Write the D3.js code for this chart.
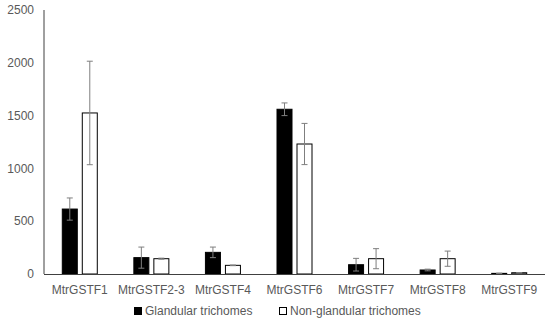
<!DOCTYPE html>
<html lang="en">
<head>
<meta charset="UTF-8">
<title>MtrGSTF expression</title>
<script src="https://d3js.org/d3.v7.min.js"></script>
<style>
    body { margin: 0; background: #fff; }
    svg text { font-family: 'Liberation Sans', Arial, sans-serif; fill: #595959; }
</style>
</head>
<body>
<svg id="chart" width="550" height="321"></svg>
<script>
    const genes = ["MtrGSTF1", "MtrGSTF2-3", "MtrGSTF4", "MtrGSTF6", "MtrGSTF7", "MtrGSTF8", "MtrGSTF9"];
    const glandular = [615, 155, 205, 1560, 88, 38, 6];
    const glandularErr = [105, 100, 50, 60, 60, 8, 2];
    const nonGlandular = [1525, 145, 82, 1231, 145, 145, 12];
    const nonGlandularErr = [490, 5, 3, 195, 95, 72, 2];
    const yTicks = [0, 500, 1000, 1500, 2000, 2500];
    const seriesNames = ["Glandular trichomes", "Non-glandular trichomes"];

    const svg = d3.select("#chart");
    const plotLeft = 44, plotRight = 545, plotTop = 10, plotBottom = 274;

    const x = d3.scaleBand().domain(genes).range([plotLeft, plotRight]);
    const y = d3.scaleLinear().domain([0, 2500]).range([plotBottom, plotTop]);

    const barW = 16, gap = 4;

    // y axis labels
    svg.selectAll(".ytick")
        .data(yTicks)
        .enter().append("text")
        .attr("x", 34)
        .attr("y", d => y(d))
        .attr("dy", "0.35em")
        .attr("text-anchor", "end")
        .attr("font-size", 12)
        .text(d => d);

    const series = [
        { vals: glandular, err: glandularErr, fill: "#000", off: -(gap / 2 + barW) },
        { vals: nonGlandular, err: nonGlandularErr, fill: "#fff", off: gap / 2 }
    ];

    series.forEach(s => {
        const g = svg.append("g");
        g.selectAll("rect")
            .data(genes)
            .enter().append("rect")
            .attr("x", (d, i) => x(d) + x.bandwidth() / 2 + s.off + 0.5)
            .attr("y", (d, i) => y(s.vals[i]))
            .attr("width", barW - 1)
            .attr("height", (d, i) => plotBottom - y(s.vals[i]))
            .attr("fill", s.fill)
            .attr("stroke", "#000")
            .attr("stroke-width", 1);

        const eb = g.selectAll(".err")
            .data(genes)
            .enter().append("g");
        const cx = (d) => x(d) + x.bandwidth() / 2 + s.off + barW / 2;
        eb.append("line")
            .attr("x1", cx).attr("x2", cx)
            .attr("y1", (d, i) => y(s.vals[i] + s.err[i]))
            .attr("y2", (d, i) => y(Math.max(0, s.vals[i] - s.err[i])))
            .attr("stroke", "#7f7f7f");
        [1, -1].forEach(sign => {
            eb.append("line")
                .attr("x1", d => cx(d) - 3).attr("x2", d => cx(d) + 3)
                .attr("y1", (d, i) => y(Math.max(0, s.vals[i] + sign * s.err[i])))
                .attr("y2", (d, i) => y(Math.max(0, s.vals[i] + sign * s.err[i])))
                .attr("stroke", "#7f7f7f");
        });
    });

    // axes lines
    svg.append("line")
        .attr("x1", plotLeft).attr("x2", plotLeft)
        .attr("y1", plotTop).attr("y2", plotBottom)
        .attr("stroke", "#404040");
    svg.append("line")
        .attr("x1", plotLeft).attr("x2", plotRight)
        .attr("y1", plotBottom + 0.5).attr("y2", plotBottom + 0.5)
        .attr("stroke", "#404040");

    // category labels
    svg.selectAll(".xlab")
        .data(genes)
        .enter().append("text")
        .attr("x", d => x(d) + x.bandwidth() / 2)
        .attr("y", 294)
        .attr("text-anchor", "middle")
        .attr("font-size", 12)
        .text(d => d);

    // legend
    const legend = [
        { name: seriesNames[0], fill: "#000", x: 134 },
        { name: seriesNames[1], fill: "#fff", x: 279 }
    ];
    legend.forEach(l => {
        svg.append("rect")
            .attr("x", l.x + 0.5).attr("y", 307.5)
            .attr("width", 7).attr("height", 7)
            .attr("fill", l.fill).attr("stroke", "#000");
        svg.append("text")
            .attr("x", l.x + 11)
            .attr("y", 315)
            .attr("font-size", 12)
            .text(l.name);
    });
</script>
</body>
</html>
